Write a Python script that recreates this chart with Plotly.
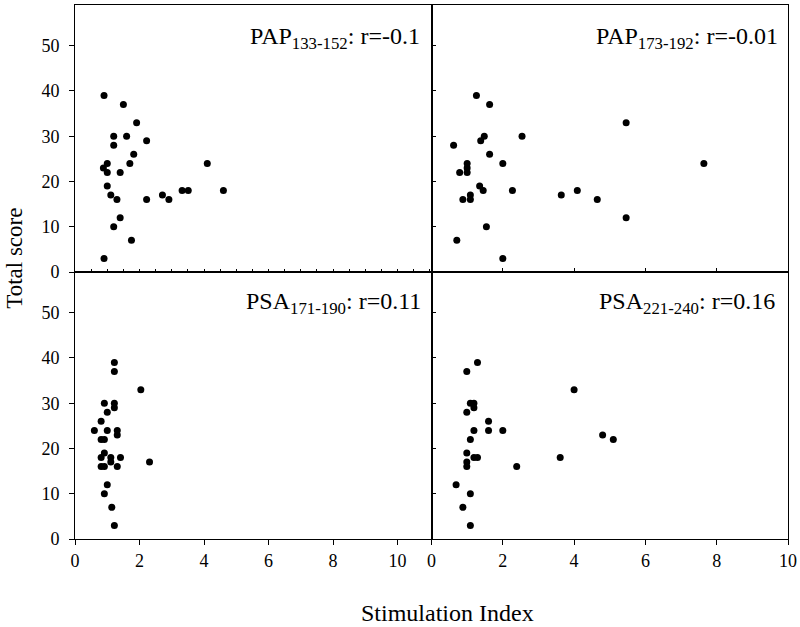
import plotly.graph_objects as go

# ---- data ----
pap133_x = [0.9, 1.5, 1.91, 1.2, 1.6, 2.22, 1.2, 1.82, 1.7, 4.1, 1.0, 0.88, 1.0, 1.4,
            1.0, 1.11, 2.71, 1.3, 2.22, 2.91, 3.32, 3.51, 4.6, 1.4, 1.2, 1.75, 0.9]
pap133_y = [39, 37, 33, 30, 30, 29, 28, 26, 24, 24, 24, 23, 22, 22,
            19, 17, 17, 16, 16, 16, 18, 18, 18, 12, 10, 7, 3]

pap173_x = [1.26, 1.63, 5.46, 1.48, 1.38, 2.54, 0.62, 1.63, 1.0, 2.0, 7.64, 1.0, 0.79, 1.0,
            1.35, 1.45, 2.27, 4.09, 3.64, 1.09, 0.88, 1.09, 4.65, 5.46, 1.54, 0.71, 2.0]
pap173_y = [39, 37, 33, 30, 29, 30, 28, 26, 24, 24, 24, 23, 22, 22,
            19, 18, 18, 18, 17, 17, 16, 16, 16, 12, 10, 7, 3]

psa171_x = [1.22, 1.22, 2.04, 0.91, 1.22, 1.22, 1.0, 0.81, 0.6, 1.0, 1.31, 1.31, 0.81, 0.91,
            0.91, 0.81, 1.11, 1.41, 1.11, 2.31, 0.81, 0.91, 1.31, 1.0, 0.91, 1.14, 1.22]
psa171_y = [39, 37, 33, 30, 30, 29, 28, 26, 24, 24, 24, 23, 22, 22,
            19, 18, 18, 18, 17, 17, 16, 16, 16, 12, 10, 7, 3]

psa221_x = [1.29, 0.99, 4.0, 1.09, 1.19, 1.19, 0.99, 1.6, 1.19, 1.6, 2.0, 4.8, 1.09, 5.1,
            0.99, 1.19, 1.29, 3.61, 0.99, 0.99, 2.39, 0.69, 1.09, 0.88, 1.09]
psa221_y = [39, 37, 33, 30, 30, 29, 28, 26, 24, 24, 24, 23, 22, 22,
            19, 18, 18, 18, 17, 16, 16, 12, 10, 7, 3]

panel_labels = ["PAP<sub>133-152</sub>: r=-0.1", "PAP<sub>173-192</sub>: r=-0.01",
                "PSA<sub>171-190</sub>: r=0.11", "PSA<sub>221-240</sub>: r=0.16"]
y_ticks = [0, 10, 20, 30, 40, 50]
x_ticks = [0, 2, 4, 6, 8, 10]

FONT = "Liberation Serif"
marker = dict(color="black", size=7)

fig = go.Figure()
fig.add_trace(go.Scatter(x=pap133_x, y=pap133_y, mode="markers", marker=marker, xaxis="x3", yaxis="y"))
fig.add_trace(go.Scatter(x=pap173_x, y=pap173_y, mode="markers", marker=marker, xaxis="x4", yaxis="y2"))
fig.add_trace(go.Scatter(x=psa171_x, y=psa171_y, mode="markers", marker=marker, xaxis="x", yaxis="y3"))
fig.add_trace(go.Scatter(x=psa221_x, y=psa221_y, mode="markers", marker=marker, xaxis="x2", yaxis="y4"))

common = dict(showline=True, linecolor="black", linewidth=1, mirror=True, showgrid=False,
              zeroline=False, tickcolor="black", automargin=False,
              tickfont=dict(family=FONT, size=18, color="black"))

yr = [0, 59]
fig.update_layout(
    xaxis=dict(domain=[0, 0.5], range=[0, 11.05], anchor="y3", tickvals=x_ticks,
               ticks="outside", ticklen=5, **common),
    xaxis2=dict(domain=[0.5, 1], range=[0, 10], anchor="y4", tickvals=x_ticks,
                ticks="outside", ticklen=5, **common),
    xaxis3=dict(domain=[0, 0.5], range=[0, 11.05], anchor="y", dtick=0.5, tick0=0,
                ticks="inside", ticklen=3, showticklabels=False, **common),
    xaxis4=dict(domain=[0.5, 1], range=[0, 10], anchor="y2", tickvals=x_ticks,
                ticks="inside", ticklen=4, showticklabels=False, **common),
    yaxis=dict(domain=[0.5, 1], range=yr, anchor="x3", tickvals=y_ticks,
               ticks="outside", ticklen=5, ticklabelstandoff=6, **common),
    yaxis2=dict(domain=[0.5, 1], range=yr, anchor="x4", tickvals=y_ticks,
                ticks="inside", ticklen=4, showticklabels=False, **common),
    yaxis3=dict(domain=[0, 0.5], range=yr, anchor="x", tickvals=y_ticks,
                ticks="outside", ticklen=5, ticklabelstandoff=6, **common),
    yaxis4=dict(domain=[0, 0.5], range=yr, anchor="x2", tickvals=y_ticks,
                ticks="inside", ticklen=4, showticklabels=False, **common),
    width=800, height=627,
    margin=dict(l=75, r=12, t=5, b=88),
    paper_bgcolor="white", plot_bgcolor="white",
    showlegend=False,
    font=dict(family=FONT, color="black"),
)

pos = [(0.486, 0.938), (0.989, 0.938), (0.488, 0.442), (0.984, 0.442)]
for (px, py), txt in zip(pos, panel_labels):
    fig.add_annotation(x=px, y=py, xref="paper", yref="paper", text=txt, showarrow=False,
                       xanchor="right", yanchor="middle",
                       font=dict(family=FONT, size=24, color="black"))

fig.add_annotation(x=0.523, y=-0.138, xref="paper", yref="paper", text="Stimulation Index",
                   showarrow=False, xanchor="center", yanchor="middle",
                   font=dict(family=FONT, size=24, color="black"))
fig.add_annotation(x=-0.084, y=0.525, xref="paper", yref="paper", text="Total score",
                   showarrow=False, textangle=-90, xanchor="center", yanchor="middle",
                   font=dict(family=FONT, size=23, color="black"))

fig.write_html("out.html", config={"displayModeBar": False},
               post_script="document.body.style.margin='0';document.body.style.padding='0';")
